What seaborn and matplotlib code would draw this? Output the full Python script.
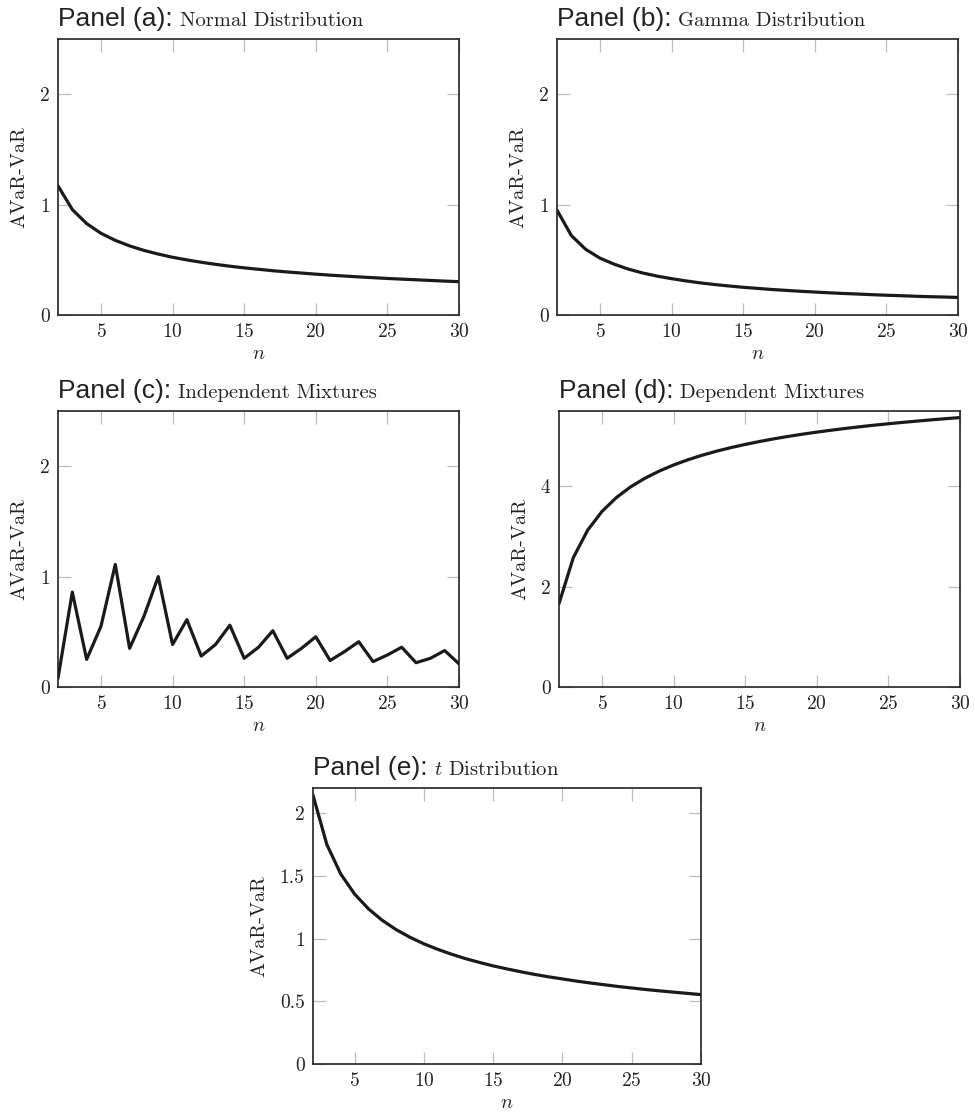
import matplotlib
matplotlib.use('Agg')
import matplotlib.pyplot as plt
import matplotlib.ticker as mticker
import seaborn as sns
import pandas as pd

# sample size n on the x axis, shared by all panels
n_values = list(range(2, 31))

# AVaR - VaR gap
normal_gap = [1.17, 0.955, 0.828, 0.740, 0.676, 0.626, 0.585, 0.552, 0.523, 0.499,
              0.478, 0.459, 0.442, 0.427, 0.414, 0.401, 0.390, 0.380, 0.370, 0.361,
              0.353, 0.345, 0.338, 0.331, 0.325, 0.319, 0.313, 0.307, 0.302]
gamma_gap = [0.95, 0.72, 0.595, 0.515, 0.46, 0.415, 0.38, 0.352, 0.329, 0.309,
             0.291, 0.276, 0.263, 0.251, 0.241, 0.231, 0.223, 0.215, 0.208, 0.201,
             0.195, 0.190, 0.184, 0.179, 0.175, 0.170, 0.166, 0.163, 0.159]
indep_mix_gap = [0.08, 0.86, 0.25, 0.55, 1.11, 0.35, 0.64, 1.00, 0.385, 0.61,
                 0.28, 0.385, 0.56, 0.26, 0.36, 0.51, 0.26, 0.35, 0.455, 0.24,
                 0.32, 0.41, 0.23, 0.29, 0.36, 0.22, 0.26, 0.33, 0.21]
dep_mix_gap = [1.661, 2.578, 3.125, 3.498, 3.774, 3.988, 4.160, 4.303, 4.424, 4.528,
               4.619, 4.699, 4.770, 4.834, 4.892, 4.945, 4.994, 5.038, 5.079, 5.117,
               5.153, 5.186, 5.217, 5.246, 5.273, 5.299, 5.324, 5.347, 5.369]
t_gap = [2.143, 1.749, 1.515, 1.355, 1.237, 1.145, 1.071, 1.010, 0.958, 0.914,
         0.875, 0.840, 0.810, 0.782, 0.758, 0.735, 0.714, 0.695, 0.678, 0.661,
         0.646, 0.632, 0.618, 0.606, 0.594, 0.583, 0.573, 0.563, 0.553]

panel_tags = ['Panel (a):', 'Panel (b):', 'Panel (c):', 'Panel (d):', 'Panel (e):']
panel_names = ['Normal Distribution', 'Gamma Distribution', 'Independent Mixtures',
               'Dependent Mixtures', '$t$ Distribution']
panel_series = [normal_gap, gamma_gap, indep_mix_gap, dep_mix_gap, t_gap]
panel_ylims = [(0, 2.5), (0, 2.5), (0, 2.5), (0, 5.5), (0, 2.2)]
panel_yticks = [[0, 1, 2], [0, 1, 2], [0, 1, 2], [0, 2, 4], [0, 0.5, 1, 1.5, 2]]
x_ticks = [5, 10, 15, 20, 25, 30]

sns.set_style('ticks')
plt.rcParams['font.family'] = ['cmr10', 'DejaVu Serif']
plt.rcParams['mathtext.fontset'] = 'cm'
plt.rcParams['axes.formatter.use_mathtext'] = True

W, H = 975, 1112
# axes boxes in pixels: left, top, right, bottom
boxes = [(58, 39, 459, 315), (557, 39, 958, 315),
         (58, 411, 459, 687), (559, 411, 960, 687),
         (313, 788, 701, 1064)]

fig = plt.figure(figsize=(W / 100, H / 100), dpi=100)

for i in range(5):
    l, t, r, b = boxes[i]
    ax = fig.add_axes([l / W, 1 - b / H, (r - l) / W, (b - t) / H])
    df = pd.DataFrame({'n': n_values, 'gap': panel_series[i]})
    sns.lineplot(data=df, x='n', y='gap', ax=ax, color='#1a1a1a', linewidth=2.3)

    ax.set_xlim(2, 30)
    ax.set_ylim(*panel_ylims[i])
    ax.set_xticks(x_ticks)
    ax.set_yticks(panel_yticks[i])
    ax.yaxis.set_major_formatter(mticker.FuncFormatter(lambda v, p: '%g' % v))
    ax.tick_params(direction='in', length=9, width=0.9, color='#bdbdbd',
                   top=True, right=True, labelsize=14, labelcolor='#222222', pad=6)
    for s in ax.spines.values():
        s.set_visible(True)
        s.set_color('#222222')
        s.set_linewidth(1.2)
    ax.set_xlabel('$n$', fontsize=14.5, labelpad=3, color='#222222')
    ax.set_ylabel('AVaR-VaR', fontsize=14.5, labelpad=8, color='#222222')

    ybase = 1 + 13 / (b - t)
    t1 = ax.text(0, ybase, panel_tags[i], transform=ax.transAxes,
                 family=['Liberation Sans', 'DejaVu Sans'], fontsize=19,
                 va='baseline', ha='left', color='#222222')
    ax.annotate(panel_names[i], xy=(1, ybase), xycoords=(t1, 'axes fraction'),
                xytext=(5, 0), textcoords='offset points',
                va='baseline', ha='left', fontsize=14.8, color='#222222')

fig.savefig('out.png', dpi=100)
